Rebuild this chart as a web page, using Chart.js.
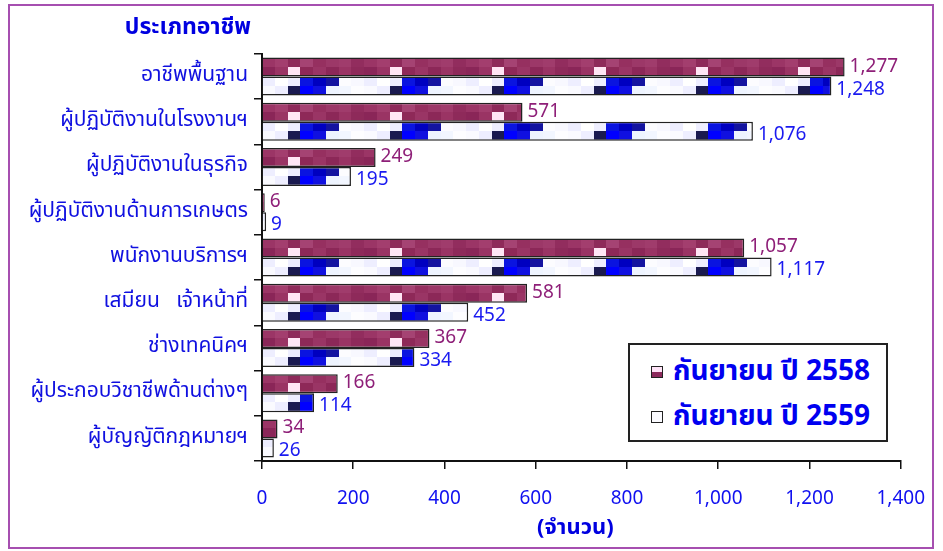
<!DOCTYPE html>
<html>
<head>
<meta charset="utf-8">
<script src="https://cdn.jsdelivr.net/npm/chart.js@4.4.1/dist/chart.umd.min.js"></script>
<style>
  html, body { margin: 0; padding: 0; background: #fff; }
  #wrap { position: relative; width: 943px; height: 551px; }
  #frame { position: absolute; left: 8px; top: 4px; width: 926px; height: 545px; border: 2px solid #a64fb0; box-sizing: border-box; pointer-events: none; }
  #legend { position: absolute; left: 628px; top: 343px; width: 260px; height: 99px; border: 2px solid #222; box-sizing: border-box; background: #fff;
            font-family: Tahoma, "Noto Sans Thai", "Noto Sans Thai UI", Loma, sans-serif; font-weight: bold; font-size: 28px; color: #0000f0; }
  .item { position: absolute; left: 21px; display: flex; align-items: center; line-height: 34px; }
  .sw { width: 10px; height: 10px; border: 1.5px solid #222; margin-right: 10px; }
</style>
</head>
<body>
<div id="wrap">
  <canvas id="c" width="943" height="551"></canvas>
  <div id="frame"></div>
  <div id="legend">
    <div class="item" style="top:10px"><span class="sw" style="background:linear-gradient(#ffe4f8 50%, #8c2a5c 50%)"></span>กันยายน ปี 2558</div>
    <div class="item" style="top:55px"><span class="sw" style="background:#fbfbff"></span>กันยายน ปี 2559</div>
  </div>
</div>
<script>
// ข้อมูลกราฟ
const categories = ['อาชีพพื้นฐาน', 'ผู้ปฏิบัติงานในโรงงานฯ', 'ผู้ปฏิบัติงานในธุรกิจ', 'ผู้ปฏิบัติงานด้านการเกษตร',
  'พนักงานบริการฯ', 'เสมียน   เจ้าหน้าที่', 'ช่างเทคนิคฯ', 'ผู้ประกอบวิชาชีพด้านต่างๆ', 'ผู้บัญญัติกฎหมายฯ'];
const values2558 = [1277, 571, 249, 6, 1057, 581, 367, 166, 34];
const values2559 = [1248, 1076, 195, 9, 1117, 452, 334, 114, 26];
const seriesNames = ['กันยายน ปี 2558', 'กันยายน ปี 2559'];
const xTicks = [0, 200, 400, 600, 800, 1000, 1200, 1400];

const thaiFont = 'Tahoma, "Noto Sans Thai", "Noto Sans Thai UI", Loma, sans-serif';
const numFont = '"Liberation Sans Narrow", "Noto Sans", sans-serif';
const BAR_H = 19;

// ลายพื้นแท่ง (tile 2 แถว)
function makeTile(topRow, bottomRow) {
  const cv = document.createElement('canvas');
  const cw = 12.75;
  cv.width = 102; cv.height = BAR_H;
  const g = cv.getContext('2d');
  for (let i = 0; i < 8; i++) {
    g.fillStyle = topRow[i];
    g.fillRect(Math.round(i * cw), 0, Math.ceil(cw) + 1, 9);
    g.fillStyle = bottomRow[i];
    g.fillRect(Math.round(i * cw), 9, Math.ceil(cw) + 1, BAR_H - 9);
  }
  return cv;
}
const tileA = makeTile(
  ['#9b3566', '#a33e6e', '#8e2a5a', '#a54373', '#963060', '#9c3868', '#a03c6c', '#922d5e'],
  ['#8a2658', '#9a3464', '#ffe6f5', '#8e2958', '#9a3565', '#8c2858', '#9a3464', '#8e2a5a']);
const tileB = makeTile(
  ['#eeeeff', '#ffffff', '#eeeeff', '#0a14e0', '#0000c0', '#1414a0', '#fcfcff', '#f8f8ff'],
  ['#fafaff', '#eeeeff', '#1a1a50', '#0000ff', '#1010e0', '#eef4ff', '#f2f6ff', '#fdfdff']);

function barPattern(ctx, tile, which) {
  const chart = ctx.chart;
  const y = chart.scales.y;
  if (!y || ctx.dataIndex === undefined) return which ? '#fff' : '#9b3566';
  const center = y.getPixelForValue(ctx.dataIndex);
  const top = which === 0 ? center - BAR_H : center;
  const p = chart.ctx.createPattern(tile, 'repeat');
  p.setTransform(new DOMMatrix().translate(262, Math.round(top)));
  return p;
}

// ป้ายค่าปลายแท่ง
const valueLabels = {
  id: 'valueLabels',
  afterDatasetsDraw(chart) {
    const ctx = chart.ctx;
    ctx.save();
    ctx.font = '19px "Noto Sans", sans-serif';
    ctx.textBaseline = 'middle';
    ctx.textAlign = 'left';
    chart.data.datasets.forEach((ds, di) => {
      ctx.fillStyle = di === 0 ? '#8e1f78' : '#1a1af0';
      chart.getDatasetMeta(di).data.forEach((bar, i) => {
        const dy = di === 0 ? -1 : 3;
        ctx.fillText(ds.data[i].toLocaleString('en-US'), bar.x + 5, bar.y + dy);
      });
    });
    ctx.restore();
  }
};

// ชื่อแกน
const axisTitles = {
  id: 'axisTitles',
  afterDraw(chart) {
    const ctx = chart.ctx;
    const a = chart.chartArea;
    ctx.save();
    ctx.font = 'bold 23px ' + thaiFont;
    ctx.fillStyle = '#0000e0';
    ctx.textBaseline = 'middle';
    ctx.textAlign = 'right';
    ctx.fillText('ประเภทอาชีพ', 251, 29);
    ctx.font = 'bold 22px ' + thaiFont;
    ctx.textAlign = 'center';
    ctx.fillText('(จำนวน)', (a.left + a.right) / 2 - 6, 530);
    ctx.restore();
  }
};

new Chart(document.getElementById('c'), {
  type: 'bar',
  data: {
    labels: categories,
    datasets: [
      { label: seriesNames[0], data: values2558,
        backgroundColor: c => barPattern(c, tileA, 0), borderColor: '#222', borderWidth: 1.5 },
      { label: seriesNames[1], data: values2559,
        backgroundColor: c => barPattern(c, tileB, 1), borderColor: '#222', borderWidth: 1.5 }
    ]
  },
  options: {
    indexAxis: 'y',
    responsive: false,
    animation: false,
    categoryPercentage: 0.84,
    barPercentage: 1.0,
    layout: { padding: { top: 54, right: 41, bottom: 42, left: 8 } },
    plugins: { legend: { display: false }, tooltip: { enabled: false } },
    scales: {
      x: {
        min: 0, max: 1400,
        afterBuildTicks: s => { s.ticks = xTicks.map(v => ({ value: v })); },
        afterFit: s => { s.height = 48; },
        grid: { drawOnChartArea: false, tickLength: 8, color: '#111', lineWidth: 1.5 },
        border: { color: '#111', width: 2 },
        ticks: { color: '#1010f0', font: { size: 19, family: numFont }, padding: 18,
          callback: v => v.toLocaleString('en-US') }
      },
      y: {
        afterFit: s => { s.width = 254; },
        grid: { drawOnChartArea: false, tickLength: 8, color: '#111', lineWidth: 1.5 },
        border: { color: '#111', width: 2 },
        ticks: { color: '#1010e0', font: { size: 21, family: thaiFont }, padding: 6, autoSkip: false }
      }
    }
  },
  plugins: [valueLabels, axisTitles]
});
</script>
</body>
</html>
